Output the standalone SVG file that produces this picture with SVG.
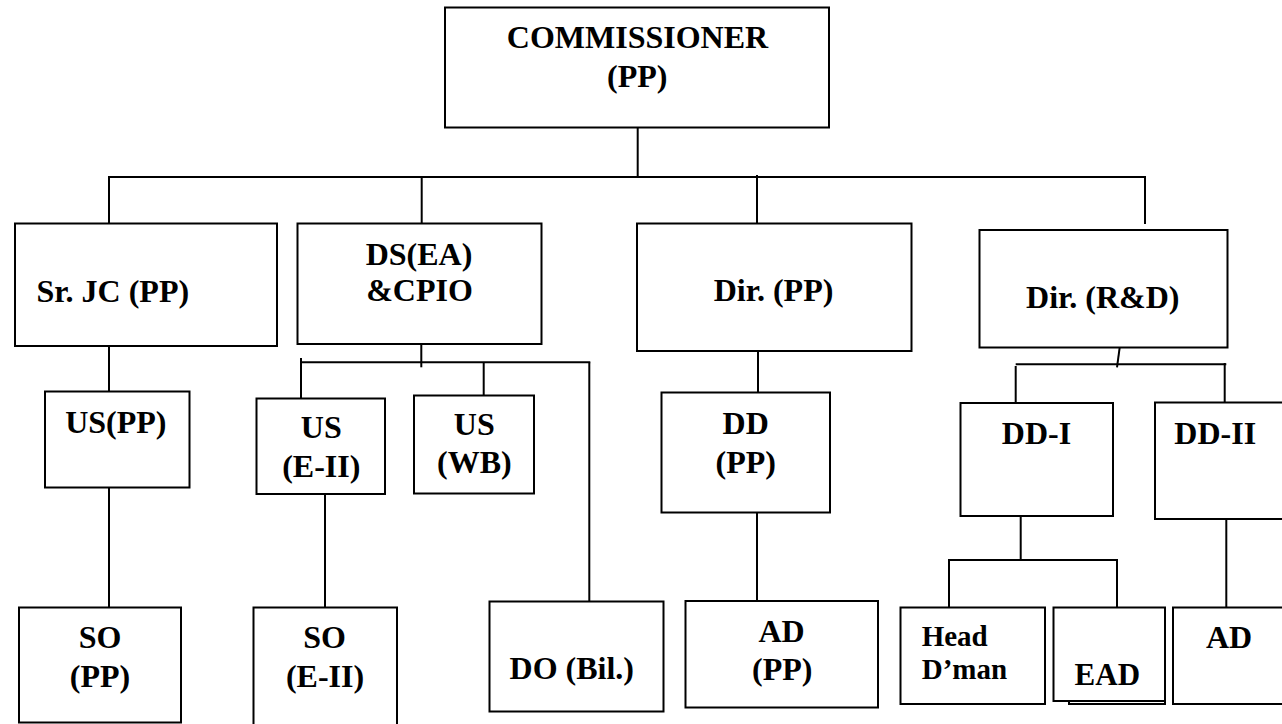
<svg xmlns="http://www.w3.org/2000/svg" width="1282" height="724" viewBox="0 0 1282 724">
<style>
.box{fill:#fff;stroke:#000;stroke-width:2}
.ln{stroke:#000;stroke-width:2;fill:none}
text{font-family:"Liberation Serif","Times New Roman",serif;font-weight:bold;font-size:32px;fill:#000;text-anchor:middle}
.st{text-anchor:start}
</style>
<rect width="1282" height="724" fill="#fff"/>
<g id="connectors" class="ln">
<line x1="637.7" y1="127.7" x2="637.7" y2="177"/>
<line x1="108" y1="177" x2="1146" y2="177"/>
<line x1="109" y1="177" x2="109" y2="223.5"/>
<line x1="421.7" y1="177" x2="421.7" y2="223.5"/>
<line x1="757" y1="175" x2="757" y2="223.5"/>
<line x1="1145" y1="176" x2="1145" y2="224"/>
<line x1="109" y1="344" x2="109" y2="391.5"/>
<line x1="109" y1="487.7" x2="109" y2="607.5"/>
<line x1="421.3" y1="344" x2="421.3" y2="367.3"/>
<line x1="301" y1="362.3" x2="590.3" y2="362.3"/>
<line x1="301" y1="358" x2="301" y2="398.5"/>
<line x1="483.7" y1="362.3" x2="483.7" y2="395.5"/>
<line x1="589.3" y1="362.3" x2="589.3" y2="601.5"/>
<line x1="325" y1="487.7" x2="325" y2="607.5"/>
<line x1="758" y1="347.7" x2="758" y2="392.5"/>
<line x1="757" y1="511" x2="757" y2="601"/>
<line x1="1119.7" y1="347.3" x2="1117" y2="367.3"/>
<line x1="1015.7" y1="364.3" x2="1226.3" y2="364.3"/>
<line x1="1015.7" y1="366" x2="1015.7" y2="403"/>
<line x1="1224.7" y1="363" x2="1224.7" y2="402.5"/>
<line x1="1020.7" y1="511.7" x2="1020.7" y2="560"/>
<line x1="948" y1="560" x2="1118" y2="560"/>
<line x1="949" y1="560" x2="949" y2="607.5"/>
<line x1="1117" y1="560" x2="1117" y2="607.5"/>
<line x1="1226.3" y1="514" x2="1226.3" y2="607.5"/>
</g>
<g id="commissioner"><rect class="box" x="445" y="7.5" width="384" height="120"/><text x="637.5" y="48.3">COMMISSIONER</text><text x="637.2" y="87.3">(PP)</text></g>
<g id="srjc"><rect class="box" x="15" y="223.5" width="262" height="122.5"/><text x="112.8" y="301.7">Sr. JC (PP)</text></g>
<g id="dsea"><rect class="box" x="297.5" y="223.5" width="244" height="120.5"/><text x="419" y="265">DS(EA)</text><text x="419.5" y="301">&amp;CPIO</text></g>
<g id="dirpp"><rect class="box" x="637" y="223.5" width="274.5" height="127.5"/><text x="773.5" y="300.7">Dir. (PP)</text></g>
<g id="dirrd"><rect class="box" x="979.5" y="230" width="248" height="117.5"/><text x="1102.8" y="307.7">Dir. (R&amp;D)</text></g>
<g id="uspp"><rect class="box" x="45" y="391.5" width="144.5" height="96"/><text x="115.8" y="433">US(PP)</text></g>
<g id="use2"><rect class="box" x="256.5" y="398.5" width="128.5" height="95.5"/><text x="321.3" y="438">US</text><text x="321.3" y="476.7">(E-II)</text></g>
<g id="uswb"><rect class="box" x="414" y="395.5" width="120" height="98"/><text x="474.3" y="435">US</text><text x="474.3" y="473.3">(WB)</text></g>
<g id="ddpp"><rect class="box" x="661.5" y="392.5" width="168.5" height="120"/><text x="745.7" y="434">DD</text><text x="745.7" y="473.3">(PP)</text></g>
<g id="dd1"><rect class="box" x="960.5" y="403" width="152.5" height="113"/><text x="1036.5" y="444">DD-I</text></g>
<g id="dd2"><rect class="box" x="1155" y="402.5" width="135" height="116.5"/><text x="1215.2" y="444">DD-II</text></g>
<g id="sopp"><rect class="box" x="19" y="607.5" width="162" height="115"/><text x="100" y="648.3">SO</text><text x="100" y="686.7">(PP)</text></g>
<g id="soe2"><rect class="box" x="253.5" y="607.5" width="143.5" height="125"/><text x="324.5" y="648.3">SO</text><text x="325" y="686.7">(E-II)</text></g>
<g id="dobil"><rect class="box" x="489.5" y="601.5" width="174" height="110"/><text x="571.8" y="679.3">DO (Bil.)</text></g>
<g id="adpp"><rect class="box" x="685.5" y="601" width="192.5" height="106.5"/><text x="781.5" y="641.7">AD</text><text x="782.2" y="680">(PP)</text></g>
<g id="headdman"><rect class="box" x="900.5" y="607.5" width="144.5" height="96.5"/><text class="st" x="921.7" y="646" style="font-size:29px">Head</text><text class="st" x="921.7" y="679.3" style="font-size:29px">D’man</text></g>
<g id="ead"><rect class="box" x="1069" y="611" width="96" height="93"/><rect class="box" x="1053.5" y="607.5" width="111.5" height="93.5"/><text x="1107.3" y="685" style="font-size:31px">EAD</text></g>
<g id="adrd"><rect class="box" x="1173" y="607.5" width="120" height="96.5"/><text x="1229" y="648.3">AD</text></g>
</svg>
